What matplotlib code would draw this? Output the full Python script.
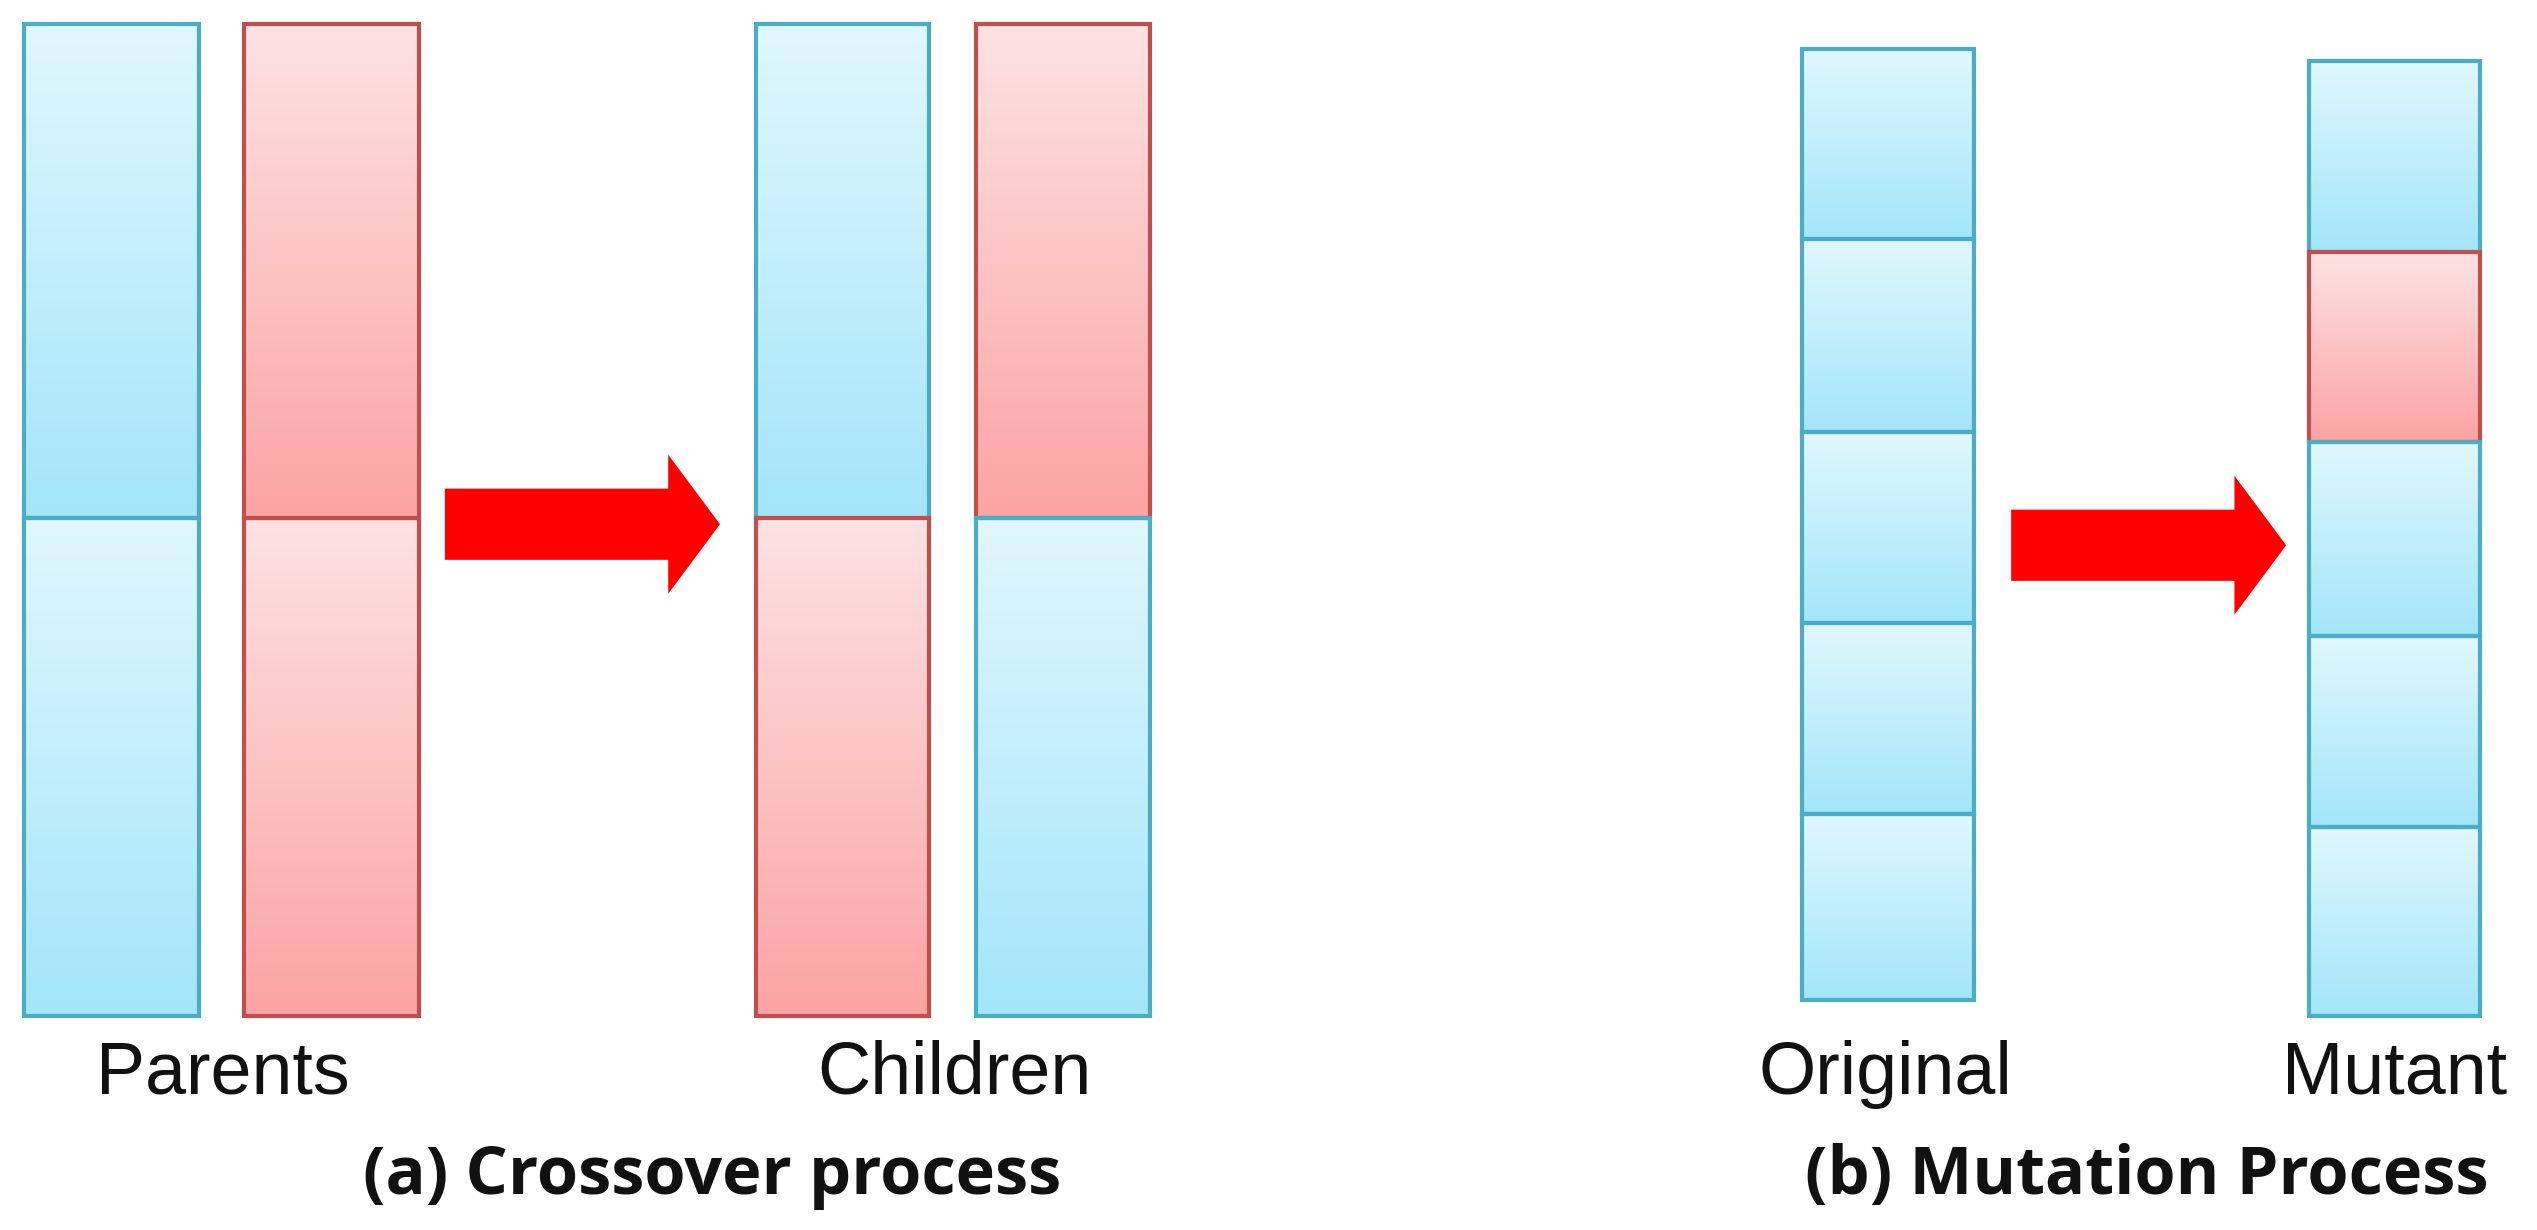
import numpy as np
import matplotlib
matplotlib.use("Agg")
import matplotlib.pyplot as plt
from matplotlib.patches import Rectangle, FancyArrow

S = 2537/1568
# bars: (x_left, x_right, [(y_top, y_bottom, color), ...]) in reference display units
bar_x = [(15,123),(151,259),(467,574),(603,711),(1114,1220),(1427,1533)]
bar_segments = [
    [(15,320,'b'),(320,628,'b')],
    [(15,320,'r'),(320,628,'r')],
    [(15,320,'b'),(320,628,'r')],
    [(15,320,'r'),(320,628,'b')],
    [(30,148,'b'),(148,267,'b'),(267,385,'b'),(385,503,'b'),(503,618,'b')],
    [(38,156,'b'),(156,273,'r'),(273,393,'b'),(393,511,'b'),(511,628,'b')],
]
arrows = [(275,445,324),(1243,1413,337)]
labels = ["Parents","Children","Original","Mutant"]
label_x = [138,590,1165,1480]
captions = ["(a) Crossover process","(b) Mutation Process"]
caption_x = [440,1327]

fig = plt.figure(figsize=(25.37,12.3), dpi=100)
ax = fig.add_axes([0,0,1,1])
ax.set_xlim(0,2537); ax.set_ylim(1230,0); ax.axis('off')

cols = {'b':(np.array([0.88,0.97,0.99]),np.array([0.64,0.90,0.98]),'#4bacc6'),
        'r':(np.array([0.99,0.89,0.89]),np.array([0.99,0.64,0.64]),'#c0504d')}
grad = np.linspace(0,1,256)[:,None,None]
for (x0,x1),segs in zip(bar_x,bar_segments):
    for (y0,y1,c) in segs:
        top,bot,edge = cols[c]
        img = top*(1-grad)+bot*grad
        ax.imshow(img,extent=(x0*S,x1*S,y1*S,y0*S),aspect='auto',zorder=1)
        ax.add_patch(Rectangle((x0*S,y0*S),(x1-x0)*S,(y1-y0)*S,fill=False,ec=edge,lw=3,zorder=2))
for (a0,a1,yc) in arrows:
    ax.add_patch(FancyArrow(a0*S,yc*S,(a1-a0)*S,0,width=44*S,head_width=86*S,
                            head_length=32*S,length_includes_head=True,fc='#ff0000',ec='none',zorder=3))
for t,x in zip(labels,label_x):
    ax.text(x*S,664*S,t,ha='center',va='center',fontsize=53,family='Liberation Sans',color='#111111')
for t,x in zip(captions,caption_x):
    ax.text(x*S,727*S,t,ha='center',va='center',fontsize=48,fontweight='bold',family='Open Sans',color='#111111')
fig.savefig('out.png',dpi=100)
